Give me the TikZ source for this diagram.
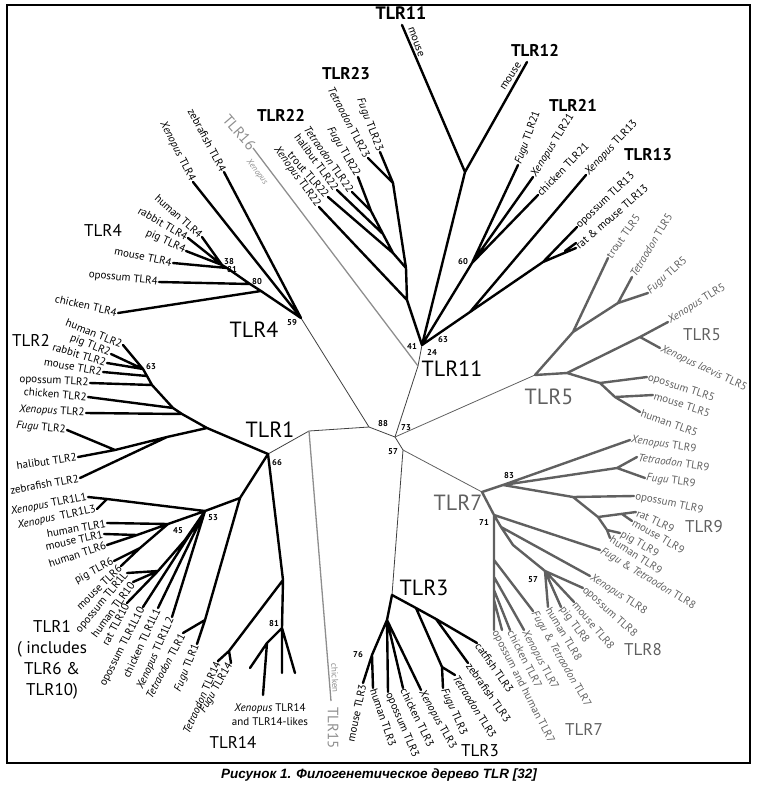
\documentclass[tikz,border=0pt]{standalone}
\usepackage{fontspec}
\setmainfont{PT Sans}
\newfontfamily\capfont{Liberation Sans}
\usetikzlibrary{positioning}
\definecolor{cladegray}{HTML}{606060}
\definecolor{palegray}{HTML}{8E8E8E}
\tikzset{
branch/.style={line width=2.4pt, line cap=round, line join=round}, % thick clade branches
branchg/.style={branch, draw=cladegray},
spine/.style={line width=0.8pt, draw=black!75}, % thin lines joining the clades
faint/.style={line width=1.3pt, draw=palegray},
leaf/.style={font=\fontsize{11}{12}\selectfont, inner sep=1.2pt},
leafg/.style={leaf, text=cladegray},
boot/.style={font=\bfseries\fontsize{8.5}{10}\selectfont, inner sep=0pt},
big/.style={font=\fontsize{22}{24}\selectfont, inner sep=0pt},
mid/.style={font=\fontsize{17}{19}\selectfont, inner sep=0pt},
}

\begin{document}
\begin{tikzpicture}[x=1pt,y=-1pt]
\useasboundingbox (0,0) rectangle (756,788);
\draw[line width=1.1pt] (7,5) rectangle (750,763);

% inner nodes
\coordinate (c88) at (369,427);  \coordinate (cC) at (395,437);
\coordinate (c57) at (403,450);  \coordinate (cT15) at (309,431);
\coordinate (c66) at (268,454);  \coordinate (c59) at (301,318);
\coordinate (cT11) at (418,366); \coordinate (cA) at (422,345);
\coordinate (cT5) at (535,375);  \coordinate (cT7) at (482,492);
\coordinate (cT3) at (392,595);
\coordinate (n4a) at (222,265); \coordinate (n4b) at (227,268);
\coordinate (n4c) at (250,284); \coordinate (n4d) at (261,291);
\coordinate (n22a) at (371,211); \coordinate (n22b) at (383,234);
\coordinate (n22c) at (393,253); \coordinate (n22d) at (406,268);
\coordinate (n22e) at (407,300); \coordinate (n23) at (393,183);
\coordinate (n1112) at (465,172); \coordinate (n60) at (472,263);
\coordinate (n13) at (470,312); \coordinate (n13om) at (543,262);
\coordinate (nRM) at (565,251);
\coordinate (n5a) at (573,332); \coordinate (n5b) at (618,303);
\coordinate (n5c) at (567,373); \coordinate (n5d) at (640,337);
\coordinate (n5e) at (600,383); \coordinate (n5f) at (615,397);
\coordinate (n83) at (503,485); \coordinate (n9tf) at (617,468);
\coordinate (n9m) at (573,497); \coordinate (n9r) at (598,517);
\coordinate (n9q) at (622,514); \coordinate (n9s) at (607,530);
\coordinate (n71) at (494,515); \coordinate (n8x) at (501,527);
\coordinate (n8a) at (513,545); \coordinate (n57) at (545,571);
\coordinate (n7a) at (494,560); \coordinate (n7b) at (494,577);
\coordinate (n7c) at (494,590); \coordinate (n7d) at (494,600);
\coordinate (n3r) at (416,608); \coordinate (n3s) at (436,619);
\coordinate (n3ft) at (442,667); \coordinate (n3l) at (387,620);
\coordinate (n76) at (372,655);
\coordinate (nT2) at (207,428); \coordinate (n2x) at (182,414);
\coordinate (n2c) at (173,408); \coordinate (n2o) at (152,385);
\coordinate (n2m) at (147,376); \coordinate (n63) at (143,369);
\coordinate (n2z) at (167,437); \coordinate (n2fh) at (115,450);
\coordinate (nT1) at (240,498); \coordinate (n53) at (205,511);
\coordinate (nXL) at (107,499); \coordinate (nFT1) at (205,620);
\coordinate (n45) at (168,524); \coordinate (n1a) at (137,535);
\coordinate (n1b) at (140,548); \coordinate (n1c) at (185,540);
\coordinate (n1e) at (158,571);
\coordinate (nT14) at (283,580); \coordinate (n81) at (282,628);
\coordinate (n81a) at (267,643); \coordinate (n14tf) at (229,651);

% tips without a label of their own
\coordinate (t15) at (331,701);  \coordinate (t16) at (253,148);
\coordinate (tT11) at (402,25);  \coordinate (tT12) at (527,62);
\coordinate (tRat13) at (576,243); \coordinate (tOH7b) at (502,630);
\coordinate (tX14a) at (250,668); \coordinate (tX14b) at (263,695);
\coordinate (tX14c) at (282,673); \coordinate (tX14d) at (295,673);

% black leaves
\foreach \nm/\x/\y/\anc/\rot/\txt in {
tXen4/193/182/east/-63/{\textit{Xenopus} TLR4}, tZeb4/224/172/east/-62/zebrafish TLR4,
tHum4/202/237/east/-42/human TLR4, tRab4/188/238/east/-30/rabbit TLR4,
tPig4/186/251/east/-25/pig TLR4, tMou4/173/263/east/-12/mouse TLR4,
tOpo4/159/282/east/-6/opossum TLR4, tChi4/118/313/east/-13/chicken TLR4,
tFug23/380/152/east/-69/{\textit{Fugu} TLR23}, tTet23/368/158/east/-62/{\textit{Tetraodon} TLR23},
tFug22/358/177/east/-60/{\textit{Fugu} TLR22}, tTet22/352/192/east/-55/{\textit{Tetraodon} TLR22},
tHal22/337/190/east/-54/halibut TLR22, tTro22/328/197/east/-49/trout TLR22,
tXen22/319/207/east/-54/{\textit{Xenopus} TLR22},
tFug21/518/165/west/70/{\textit{Fugu} TLR21}, tXen21/533/177/west/58/{\textit{Xenopus} TLR21},
tChi21/538/195/west/46/chicken TLR21, tXen13/586/175/west/47/{\textit{Xenopus} TLR13},
tOpo13/577/227/west/43/opossum TLR13, tRM13/576/248/west/41/rat \& mouse TLR13,
tMou3/363/683/east/78/mouse TLR3, tHum3/373/688/west/-71/human TLR3,
tOpo3/388/692/west/-67/opossum TLR3, tChi3/403/688/west/-64/chicken TLR3,
tXen3/421/690/west/-61/{\textit{Xenopus} TLR3}, tFug3/443/688/west/-66/{\textit{Fugu} TLR3},
tTet3/455/675/west/-58/{\textit{Tetraodon} TLR3}, tZeb3/468/663/west/-55/zebrafish TLR3,
tCat3/477/643/west/-55/catfish TLR3,
tHum2/123/345/east/-22/human TLR2, tPig2/111/354/east/-22/pig TLR2,
tRab2/107/363/east/-17/rabbit TLR2, tMou2/103/372/east/-10/mouse TLR2,
tOpo2/90/383/east/-3/opossum TLR2, tChi2/88/397/east/-5/chicken TLR2,
tXen2/86/413/east/-3/{\textit{Xenopus} TLR2}, tFug2/67/430/east/-5/{\textit{Fugu} TLR2},
tHal2/78/457/east/8/halibut TLR2, tZeb2/80/478/east/10/zebrafish TLR2,
tXL1/88/497/east/11/{\textit{Xenopus} TLR1L1}, tXL3/97/509/east/12/{\textit{Xenopus}\enspace TLR1L3},
tHum1/107/523/east/10/human TLR1, tMou1/104/534/east/12/mouse TLR1,
tHum6/107/545/east/18/human TLR6, tPig6/114/561/east/28/pig TLR6,
tMou6/121/566/east/44/mouse TLR6, tOpoL/127/573/east/50/opossum TLR1L,
tHum10/133/582/east/54/human TLR10, tRat10/127/603/east/62/rat TLR10,
tOpoL10/143/607/east/63/opossum TLR1L10, tChiL1/158/608/east/65/chicken TLR1L1,
tXenL2/172/617/east/66/{\textit{Xenopus} TLR1L2}, tTet1/183/633/east/62/{\textit{Tetraodon} TLR1},
tFug1/197/644/east/68/{\textit{Fugu} TLR1},
tTet14/218/661/east/66/{\textit{Tetraodon} TLR14}, tFug14/231/663/east/60/{\textit{Fugu} TLR14}}
{\coordinate (\nm) at (\x,\y);
 \node[leaf, anchor=\anc, rotate=\rot] (l-\nm) at (\nm) {\txt};}

% grey leaves
\foreach \nm/\x/\y/\rot/\txt in {
tTro5/608/258/55/trout TLR5, tTet5/632/277/59/{\textit{Tetraodon} TLR5},
tFug5/648/293/42/{\textit{Fugu} TLR5}, tXen5/668/322/32/{\textit{Xenopus} TLR5},
tXla5/660/348/-25/{\textit{Xenopus laevis} TLR5}, tOpo5/647/377/-18/opossum TLR5,
tMou5/653/395/-18/mouse TLR5, tHum5/640/412/-20/human TLR5,
tXen9/630/440/-8/{\textit{Xenopus} TLR9}, tTet9/637/457/-8/{\textit{Tetraodon} TLR9},
tFug9/645/478/-7/{\textit{Fugu} TLR9}, tOpo9/634/496/-12/opossum TLR9,
tRat9/636/512/-25/rat TLR9, tMou9/632/521/-30/mouse TLR9,
tPig9/620/533/-30/pig TLR9, tHum9/610/538/-33/human TLR9,
tFT8/600/550/-31/{\textit{Fugu} \& \textit{Tetraodon} TLR8}, tXen8/590/576/-33/{\textit{Xenopus} TLR8},
tOpo8/583/588/-42/opossum TLR8, tMou8/574/602/-50/mouse TLR8,
tPig8/561/607/-54/pig TLR8, tHum8/548/607/-59/human TLR8,
tFT7/533/611/-60/{\textit{Fugu} \& \textit{Tetraodon} TLR7}, tXen7/524/630/-62/{\textit{Xenopus} TLR7},
tChi7/510/630/-63/chicken TLR7, tOH7/494/630/-63/opossum and human TLR7}
{\coordinate (\nm) at (\x,\y);
 \node[leafg, anchor=west, rotate=\rot] (l-\nm) at (\nm) {\txt};}

% lines between the clades
\draw[spine] (c59) -- (c88) -- (cC) -- (cT11) -- (cA);
\draw[spine] (cC) -- (c57) -- (cT3);
\draw[spine] (c88) -- (cT15) -- (c66);
\draw[spine, draw=cladegray] (c57) -- (cT7) (cC) -- (cT5);
\draw[faint] (cT15) -- (t15) (cT11) -- (t16);

% TLR4
\draw[branch] (c59) -- (n4d) -- (n4c) -- (n4b) -- (n4a) -- (tHum4)
  (n4a) -- (tRab4) (n4a) -- (tPig4) (n4b) -- (tMou4) (n4c) -- (tOpo4)
  (n4d) -- (tChi4) (c59) -- (tXen4) (c59) -- (tZeb4);
% TLR22, TLR23
\draw[branch] (cA) -- (n22e) -- (n22d) -- (n22c) -- (n22b) -- (n22a) -- (tFug22)
  (n22a) -- (tTet22) (n22b) -- (tHal22) (n22c) -- (tTro22) (n22e) -- (tXen22)
  (n22d) -- (n23) -- (tFug23) (n23) -- (tTet23);
% TLR11, TLR12, TLR21, TLR13
\draw[branch] (cA) -- (n1112) -- (tT11) (n1112) -- (tT12)
  (cA) -- (n60) -- (tFug21) (n60) -- (tXen21) (n60) -- (tChi21)
  (cA) -- (n13) -- (tXen13) (n13) -- (n13om) -- (tOpo13)
  (n13om) -- (tRM13) (nRM) -- (tRat13);
% TLR5
\draw[branchg] (cT5) -- (n5a) -- (tTro5) (n5a) -- (n5b) -- (tTet5) (n5b) -- (tFug5)
  (cT5) -- (n5c) -- (n5d) -- (tXen5) (n5d) -- (tXla5)
  (n5c) -- (n5e) -- (tOpo5) (n5e) -- (n5f) -- (tMou5) (n5f) -- (tHum5);
% TLR9
\draw[branchg] (cT7) -- (n83) -- (tXen9) (n83) -- (n9tf) -- (tTet9) (n9tf) -- (tFug9)
  (n83) -- (n9m) -- (tOpo9) (n9m) -- (n9r) -- (tRat9) (n9q) -- (tMou9)
  (n9r) -- (n9s) -- (tPig9) (n9s) -- (tHum9);
% TLR8, TLR7
\draw[branchg] (cT7) -- (n71) -- (tFT8) (n71) -- (n8x) -- (tXen8)
  (n8x) -- (n8a) -- (n57) -- (tOpo8) (n57) -- (tMou8) (n57) -- (tPig8) (n57) -- (tHum8)
  (n71) -- (n7a) -- (n7b) -- (n7c) -- (n7d) -- (tOH7)
  (n7a) -- (tFT7) (n7b) -- (tXen7) (n7c) -- (tChi7) (n7d) -- (tOH7b);
% TLR3
\draw[branch] (cT3) -- (n3r) -- (n3s) -- (tCat3) (n3s) -- (tZeb3)
  (n3r) -- (n3ft) -- (tFug3) (n3ft) -- (tTet3)
  (cT3) -- (n3l) -- (n76) -- (tMou3) (n76) -- (tHum3)
  (n3l) -- (tOpo3) (n3l) -- (tChi3) (n3l) -- (tXen3);
% TLR2
\draw[branch] (c66) -- (nT2) -- (n2x) -- (n2c) -- (n2o) -- (n2m) -- (n63) -- (tHum2)
  (n63) -- (tPig2) (n63) -- (tRab2) (n2m) -- (tMou2) (n2o) -- (tOpo2)
  (n2c) -- (tChi2) (n2x) -- (tXen2)
  (nT2) -- (n2z) -- (n2fh) -- (tFug2) (n2fh) -- (tHal2) (n2z) -- (tZeb2);
% TLR1
\draw[branch] (c66) -- (nT1) -- (n53) -- (nXL) -- (tXL1) (nXL) -- (tXL3)
  (nT1) -- (nFT1) -- (tTet1) (nFT1) -- (tFug1)
  (n53) -- (n45) -- (tHum1) (n45) -- (n1a) -- (tMou1) (n1a) -- (tHum6)
  (n45) -- (n1b) -- (tPig6) (n1b) -- (tMou6)
  (n53) -- (n1c) -- (n1e) -- (tOpoL) (n1e) -- (tHum10) (n1e) -- (tRat10)
  (n53) -- (tOpoL10) (n53) -- (tChiL1) (n53) -- (tXenL2);
% TLR14
\draw[branch] (c66) -- (nT14) -- (n81) -- (n81a) -- (tX14a) (n81a) -- (tX14b)
  (n81) -- (tX14c) (n81) -- (tX14d)
  (nT14) -- (n14tf) -- (tTet14) (n14tf) -- (tFug14);

% bootstrap values
\foreach \nm/\x/\y/\v in {b38/229/262/38, b81a/232/270/81, b80/257/282/80, b59/292/323/59,
  b41/412/346/41, b24/432/352/24, b63a/443/340/63, b60/463/262/60, b88/383/424/88,
  b73/406/428/73, b57a/393/452/57, b83/509/476/83, b71/484/522/71, b57b/533/580/57,
  b76/358/655/76, b66/277/463/66, b63b/151/367/63, b53/213/518/53, b45/178/531/45,
  b81b/274/624/81}
  \node[boot] (\nm) at (\x,\y) {\v};

% small notes on single branches
\node[leaf, rotate=-70] (mouse11) at (416,42) {mouse};
\node[leaf, rotate=57] (mouse12) at (511,76) {mouse};
\node[leaf, text=palegray, rotate=-53, font=\itshape\fontsize{8.5}{10}\selectfont] (xen16) at (257,172) {Xenopus};
\node[leaf, text=palegray, rotate=-87, font=\fontsize{9}{10}\selectfont] (chi15) at (335,678) {chicken};
\node[leaf, align=center, font=\fontsize{11}{14}\selectfont] (x14) at (270,715) {\textit{Xenopus} TLR14\\and TLR14-likes};

% group names
\node[big] (g4) at (254,330) {TLR4};
\node[big] (g1) at (270,430) {TLR1};
\node[big] (g11) at (452,369) {TLR11};
\node[big, text=cladegray] (g5) at (549,397) {TLR5};
\node[big, text=cladegray] (g7) at (458,503) {TLR7};
\node[big] (g3) at (424,588) {TLR3};
\node[mid] (g4l) at (103,230) {TLR4};
\node[mid] (g2) at (31,340) {TLR2};
\node[mid, font=\bfseries\fontsize{17}{19}\selectfont] (g22) at (281,115) {TLR22};
\node[mid, font=\bfseries\fontsize{17}{19}\selectfont] (g23) at (346,74) {TLR23};
\node[mid, font=\bfseries\fontsize{18}{19}\selectfont] (g11t) at (401,13) {TLR11};
\node[mid, font=\bfseries\fontsize{17}{19}\selectfont] (g12) at (535,50) {TLR12};
\node[mid, font=\bfseries\fontsize{17}{19}\selectfont] (g21) at (573,105) {TLR21};
\node[mid, font=\bfseries\fontsize{17}{19}\selectfont] (g13) at (648,155) {TLR13};
\node[mid, text=cladegray] (g5r) at (702,335) {TLR5};
\node[mid, text=cladegray] (g9) at (704,527) {TLR9};
\node[mid, text=cladegray] (g8) at (643,650) {TLR8};
\node[mid, text=cladegray] (g7b) at (584,729) {TLR7};
\node[mid] (g3b) at (480,751) {TLR3};
\node[mid] (g14) at (233,742) {TLR14};
\node[mid, align=center, font=\fontsize{17}{21}\selectfont] (g1l) at (52,660) {TLR1\\( includes\\TLR6 \&\\TLR10)};
\node[mid, text=palegray, rotate=-49, anchor=east, font=\fontsize{15}{17}\selectfont] (g16) at (t16) {TLR16};
\node[mid, text=palegray, rotate=-90, font=\fontsize{15}{17}\selectfont] (g15) at (333,728) {TLR15};

% caption
\node[font=\capfont\bfseries\itshape\fontsize{13.5}{15}\selectfont] (cap) at (379,775) {Рисунок 1. Филогенетическое дерево TLR [32]};
\end{tikzpicture}
\end{document}
